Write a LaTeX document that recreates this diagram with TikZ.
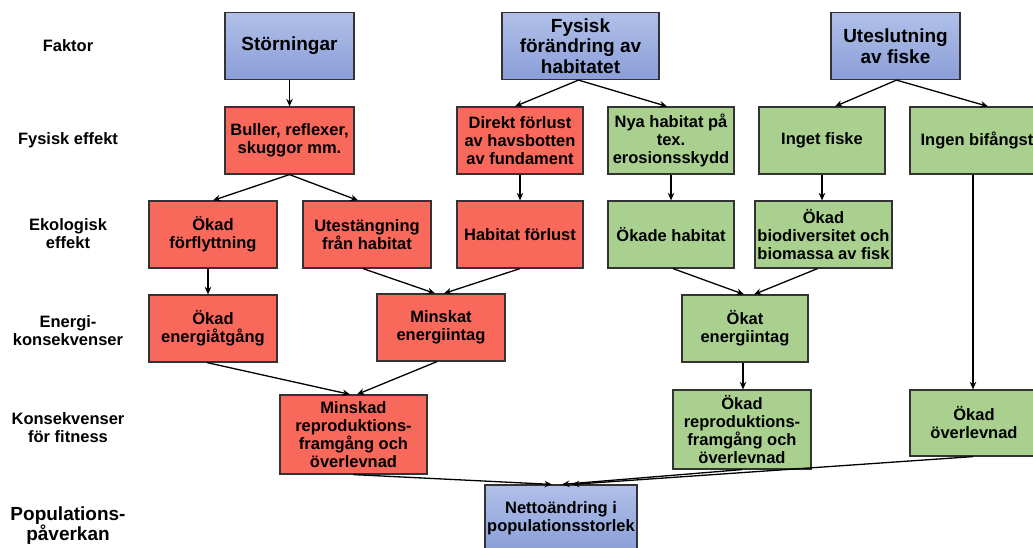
\documentclass[tikz,border=0pt]{standalone}
\usepackage{fontspec}
\setmainfont{Liberation Sans}
\usetikzlibrary{arrows.meta,calc}
\definecolor{bluetop}{HTML}{B1C0E9}
\definecolor{bluebot}{HTML}{8A9ED8}
\definecolor{redbox}{HTML}{F9695B}
\definecolor{greenbox}{HTML}{A9D08E}
\definecolor{edge}{HTML}{333333}
\tikzset{
  box/.style={rectangle, draw=edge, line width=1.2pt, inner sep=0pt, align=center,
    font=\bfseries\fontsize{16.5}{18}\selectfont, text=black},
  bluebox/.style={box, top color=bluetop, bottom color=bluebot, font=\bfseries\fontsize{19}{20.5}\selectfont},
  rbox/.style={box, fill=redbox},
  gbox/.style={box, fill=greenbox},
  lab/.style={align=center, font=\bfseries\fontsize{16.5}{18}\selectfont, inner sep=0pt},
  conn/.style={draw=black, line width=1.3pt, -{Stealth[length=7.5pt,width=6.5pt]}}
}
\begin{document}
\begin{tikzpicture}[x=1pt,y=-1pt]
\useasboundingbox (0,0) rectangle (1033,548);
\clip (0,0) rectangle (1033,548);
% left labels
\node[lab] (l1) at (68,46) {Faktor};
\node[lab] (l2) at (68,140) {Fysisk effekt};
\node[lab] (l3) at (68,234) {Ekologisk\\effekt};
\node[lab] (l4) at (68,331) {Energi-\\konsekvenser};
\node[lab] (l5) at (68,428) {Konsekvenser\\för fitness};
\node[lab, font=\bfseries\fontsize{19}{20}\selectfont] (l6) at (68,525.5) {Populations-\\påverkan};
% row 1
\node[bluebox, minimum width=129pt, minimum height=67pt] (stor) at (289.5,46) {Störningar};
\node[bluebox, minimum width=157pt, minimum height=67pt] (fys) at (580.5,46) {Fysisk\\förändring av\\habitatet};
\node[bluebox, minimum width=129pt, minimum height=67pt] (ute) at (895.5,46) {Uteslutning\\av fiske};
% row 2
\node[rbox, minimum width=129pt, minimum height=67pt] (bul) at (289.5,140.5) {Buller, reflexer,\\skuggor mm.};
\node[rbox, minimum width=126pt, minimum height=67pt] (dir) at (520,140.5) {Direkt förlust\\av havsbotten\\av fundament};
\node[gbox, minimum width=126pt, minimum height=67pt] (nya) at (671,140.5) {Nya habitat på\\tex.\\erosionsskydd};
\node[gbox, minimum width=126pt, minimum height=67pt] (ing) at (822,140.5) {Inget fiske};
\node[gbox, minimum width=134pt, minimum height=67pt] (bif) at (977,140.5) {Ingen bifångst};
% row 3
\node[rbox, minimum width=128pt, minimum height=67pt] (okf) at (213,234.5) {Ökad\\förflyttning};
\node[rbox, minimum width=128pt, minimum height=67pt] (utg) at (367,234.5) {Utestängning\\från habitat};
\node[rbox, minimum width=126pt, minimum height=67pt] (hab) at (520,234.5) {Habitat förlust};
\node[gbox, minimum width=126pt, minimum height=67pt] (oha) at (671,234.5) {Ökade habitat};
\node[gbox, minimum width=137pt, minimum height=67pt] (bio) at (823.5,234.5) {Ökad\\biodiversitet och\\biomassa av fisk};
% row 4
\node[rbox, minimum width=128pt, minimum height=67pt] (oen) at (213,328.5) {Ökad\\energiåtgång};
\node[rbox, minimum width=128pt, minimum height=67pt] (min) at (441,327.5) {Minskat\\energiintag};
\node[gbox, minimum width=126pt, minimum height=67pt] (oki) at (745,328.5) {Ökat\\energiintag};
% row 5
\node[rbox, minimum width=147pt, minimum height=79pt] (mrep) at (353.5,434.5) {Minskad\\reproduktions-\\framgång och\\överlevnad};
\node[gbox, minimum width=138pt, minimum height=79pt] (orep) at (742,429.5) {Ökad\\reproduktions-\\framgång och\\överlevnad};
\node[gbox, minimum width=128pt, minimum height=66pt] (oov) at (974,423) {Ökad\\överlevnad};
% row 6
\node[bluebox, font=\bfseries\fontsize{16.5}{18}\selectfont, minimum width=152pt, minimum height=66pt] (net) at (561,518) {Nettoändring i\\populationsstorlek};
% connectors
\draw[conn] (stor.south) -- (bul.north);
\draw[conn] (bul.south) -- (okf.north);
\draw[conn] (bul.south) -- ([xshift=-9pt]utg.north);
\draw[conn] ([xshift=-2pt]fys.south) -- ([xshift=-5pt]dir.north);
\draw[conn] ([xshift=-2pt]fys.south) -- ([xshift=-4pt]nya.north);
\draw[conn] ([xshift=1pt]ute.south) -- ([xshift=13pt]ing.north);
\draw[conn] ([xshift=1pt]ute.south) -- ([xshift=11pt]bif.north);
\draw[conn] (dir.south) -- (hab.north);
\draw[conn] (nya.south) -- (oha.north);
\draw[conn] (ing.south) -- ([xshift=-1.5pt]bio.north);
\draw[conn] ([xshift=-4pt]bif.south) -- ([xshift=-1pt]oov.north);
\draw[conn] ([xshift=-5pt]okf.south) -- ([xshift=-5pt]oen.north);
\draw[conn] ([xshift=-4pt]utg.south) -- ([xshift=-6pt]min.north);
\draw[conn] (hab.south) -- ([xshift=3pt]min.north);
\draw[conn] ([xshift=2pt]oha.south) -- ([xshift=-1pt]oki.north);
\draw[conn] ([xshift=-6pt]bio.south) -- ([xshift=9pt]oki.north);
\draw[conn] ([xshift=-6pt]oen.south) -- ([xshift=-3.5pt]mrep.north);
\draw[conn] ([xshift=-4pt]min.south) -- ([xshift=3.5pt]mrep.north);
\draw[conn] ([xshift=-2pt]oki.south) -- ([xshift=1pt]orep.north);
\draw[conn] (mrep.south) -- ([xshift=-9pt]net.north);
\draw[conn] (orep.south) -- ([xshift=1pt]net.north);
\draw[conn] ([xshift=-1pt]oov.south) -- ([xshift=11pt]net.north);
\end{tikzpicture}
\end{document}
